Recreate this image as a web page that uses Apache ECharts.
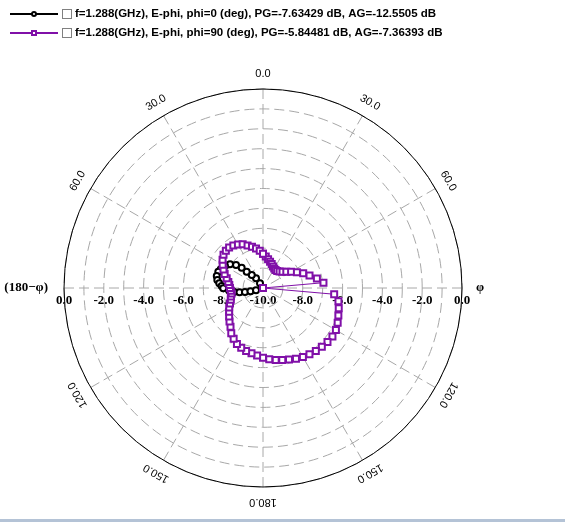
<!DOCTYPE html>
<html><head><meta charset="utf-8">
<script src="https://cdn.jsdelivr.net/npm/echarts@6/dist/echarts.min.js"></script>
<style>html,body{margin:0;padding:0;background:#fff}#c{width:565px;height:522px}</style>
</head><body><div id="c"></div><script>
// ---- data ----
const seriesNames = [
  'f=1.288(GHz), E-phi, phi=0 (deg), PG=-7.63429 dB, AG=-12.5505 dB',
  'f=1.288(GHz), E-phi, phi=90 (deg), PG=-5.84481 dB, AG=-7.36393 dB'
];
// phi=0 cut (angle in deg clockwise from top, gain in dB; -10 = clipped at centre)
const phi0Angles = [332, 327.4, 324.2, 319, 315, 313.6, 310.4, 305.7, 300.1, 293.8, 290, 284.5, 279.9, 276.1, 272.8, 269.6, 265.8, 262.1, 259.6, 257.5, 255.2, 251.8, 245];
const phi0Gain   = [-10, -9.72, -9.40, -9.14, -8.84, -8.52, -8.22, -7.96, -7.79, -7.68, -7.61, -7.60, -7.67, -7.79, -7.92, -8.00, -8.29, -8.53, -8.80, -9.07, -9.35, -9.63, -10];
// phi=90 cut
const phi90Angles = [0,5,10,15,20,25,30,35,40,45,50,55,60,65,70,75,80,85,90,95,100,105,110,115,120,125,130,135,140,145,150,155,160,165,170,175,180,185,190,195,200,205,210,215,220,225,230,235,240,245,250,255,260,265,270,275,280,285,290,295,300,305,310,315,320,325,330,335,340,345,350,355];
const phi90Gain = [-8.28,-8.41,-8.53,-8.63,-8.72,-8.81,-8.87,-8.90,-8.89,-8.82,-8.72,-8.57,-8.37,-8.12,-7.85,-7.58,-7.25,-6.95,-10,-6.41,-6.15,-6.06,-5.97,-5.86,-5.77,-5.74,-5.77,-5.82,-5.87,-5.93,-5.99,-6.08,-6.18,-6.26,-6.33,-6.41,-6.50,-6.59,-6.67,-6.72,-6.80,-6.90,-7.05,-7.22,-7.46,-7.62,-7.78,-7.92,-8.04,-8.17,-8.28,-8.33,-8.40,-8.38,-8.34,-8.30,-8.23,-8.11,-7.95,-7.81,-7.66,-7.52,-7.41,-7.36,-7.35,-7.40,-7.48,-7.58,-7.73,-7.86,-7.98,-8.12];
// axis ticks
const angleTickAngles = [0, 30, 60, 120, 150, 180, 210, 240, 300, 330];
const angleTickLabels = ['0.0','30.0','60.0','120.0','150.0','180.0','150.0','120.0','60.0','30.0'];
const radiusMin = -10, radiusMax = 0;
const leftName = '(180\u2212\u03c6)', rightName = '\u03c6';

// ---- layout ----
const CX = 263, CY = 288, R = 199, LR = 214;
const PURPLE = '#8010a8';
const GRID = '#a8a8a8';

const chart = echarts.init(document.getElementById('c'), null, {renderer: 'canvas'});
const phi0Data = phi0Angles.map((a, i) => [phi0Gain[i], a]);
const phi90Data = phi90Angles.map((a, i) => [phi90Gain[i], a]);
phi90Data.push(phi90Data[0]);

const angleLabelGraphics = angleTickAngles.map((a, i) => {
  const t = a * Math.PI / 180;
  return {
    type: 'text', x: CX + LR * Math.sin(t), y: CY - LR * Math.cos(t), rotation: -t, z: 20,
    style: {text: angleTickLabels[i], align: 'center', verticalAlign: 'middle',
      fontFamily: 'Liberation Sans', fontSize: 11, fill: '#000'}
  };
});

const serifBold = {fontFamily: 'Liberation Serif', fontWeight: 'bold', fontSize: 13, color: '#000'};

chart.setOption({
  animation: false,
  backgroundColor: '#fff',
  legend: {
    orient: 'vertical', left: 4, top: 3, itemWidth: 48, itemHeight: 5, itemGap: 7,
    data: seriesNames,
    formatter: n => '{b|}{t|' + n + '}',
    textStyle: {
      rich: {
        b: {width: 8, height: 8, borderColor: '#808080', borderWidth: 1, backgroundColor: '#fff'},
        t: {fontFamily: 'Liberation Sans', fontWeight: 'bold', fontSize: 11.5, color: '#000', padding: [0, 0, 0, 4]}
      }
    }
  },
  polar: {center: [CX, CY], radius: R},
  angleAxis: {
    type: 'value', min: 0, max: 360, interval: 30, startAngle: 90, clockwise: true, z: 5,
    axisLine: {show: true, lineStyle: {color: '#000', width: 1}},
    axisTick: {show: false}, axisLabel: {show: false},
    splitLine: {show: true, lineStyle: {color: GRID, width: 1, type: [10, 5]}}
  },
  radiusAxis: {
    type: 'value', min: radiusMin, max: radiusMax, interval: 1, z: 1,
    axisLine: {show: false}, axisTick: {show: false}, axisLabel: {show: false},
    splitLine: {show: true, lineStyle: {color: GRID, width: 1, type: [10, 5]}}
  },
  grid: {left: CX - R, width: 2 * R, top: 100, height: CY - 100},
  xAxis: [{
    type: 'value', position: 'bottom', min: radiusMin, max: -radiusMin, interval: 2,
    axisLine: {show: false}, axisTick: {show: false}, splitLine: {show: false},
    axisLabel: Object.assign({margin: 6, formatter: v => (Math.abs(v) + radiusMin).toFixed(1)}, serifBold),
    name: rightName, nameLocation: 'end', nameGap: 14,
    nameTextStyle: Object.assign({padding: [6, 0, 0, 0]}, serifBold)
  }, {
    type: 'value', position: 'bottom', offset: 0, min: radiusMin, max: -radiusMin, show: true,
    axisLine: {show: false}, axisTick: {show: false}, splitLine: {show: false}, axisLabel: {show: false},
    name: leftName, nameLocation: 'start', nameGap: 16,
    nameTextStyle: Object.assign({padding: [6, 0, 0, 0]}, serifBold)
  }],
  yAxis: {type: 'value', show: false},
  series: [{
    name: seriesNames[0], type: 'line', coordinateSystem: 'polar', data: phi0Data, z: 10,
    symbol: 'emptyCircle', symbolSize: 6, color: '#000',
    lineStyle: {color: '#000', width: 1}, itemStyle: {color: '#000', borderWidth: 1}
  }, {
    name: seriesNames[1], type: 'line', coordinateSystem: 'polar', data: phi90Data, z: 11,
    symbol: 'emptyRect', symbolSize: 6, color: PURPLE,
    lineStyle: {color: PURPLE, width: 1}, itemStyle: {color: PURPLE, borderWidth: 1}
  }],
  graphic: angleLabelGraphics.concat([{
    type: 'rect', shape: {x: 0, y: 519, width: 565, height: 3}, style: {fill: '#b4c3d6'}
  }])
});
</script></body></html>
